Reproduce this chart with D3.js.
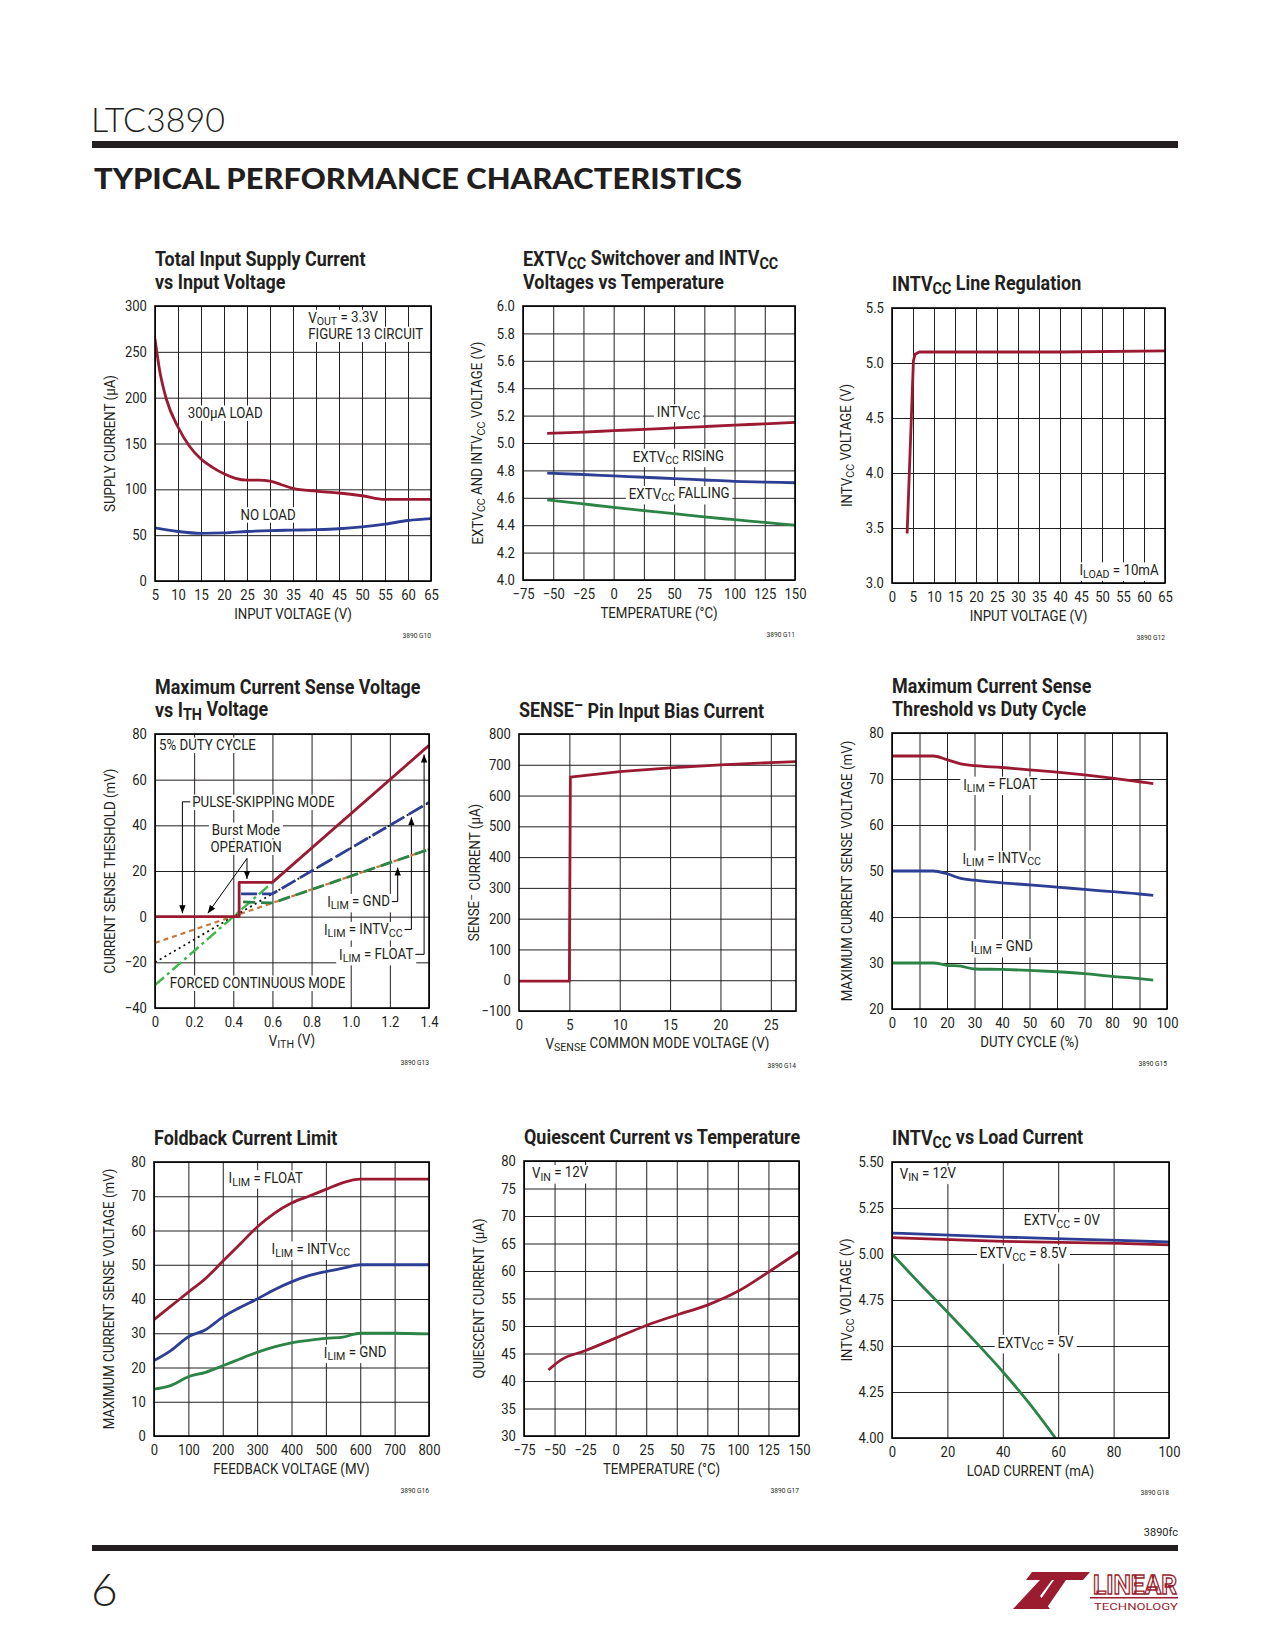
<!DOCTYPE html>
<html>
<head>
<meta charset="utf-8">
<script src="https://cdn.jsdelivr.net/npm/d3@7"></script>
<style>
  body { margin: 0; background: #fff; }
  svg { display: block; }
</style>
</head>
<body>
<script>
// ---- data ----

// Total Input Supply Current vs Input Voltage
const c1VinLoad = [5, 6, 7.5, 10, 12.5, 15, 17.5, 20, 22.5, 25, 27.5, 30, 32.5, 35, 40, 45, 50, 55, 60, 65];
const c1Load = [264, 230, 198, 168, 147, 133, 124, 117, 112, 110, 110, 109, 105, 101, 98, 96, 93, 89, 89, 89];
const c1VinNoLoad = [5, 10, 15, 20, 25, 30, 35, 40, 45, 50, 55, 60, 65];
const c1NoLoad = [58, 54, 52, 52.5, 54, 55, 55.5, 56, 57, 59, 62, 66, 68];
const c1XTicks = d3.range(5, 66, 5);
const c1YTicks = [0, 50, 100, 150, 200, 250, 300];

// EXTVcc switchover and INTVcc vs temperature
const c2Temp = [-55, -25, 0, 25, 50, 75, 100, 125, 150];
const c2Intvcc = [5.07, 5.08, 5.09, 5.10, 5.11, 5.12, 5.13, 5.14, 5.15];
const c2ExtRise = [4.78, 4.77, 4.76, 4.75, 4.74, 4.73, 4.72, 4.715, 4.71];
const c2ExtFall = [4.585, 4.555, 4.53, 4.506, 4.484, 4.46, 4.44, 4.42, 4.40];
const c2XTicks = [-75, -50, -25, 0, 25, 50, 75, 100, 125, 150];
const c2YTicks = [4.0, 4.2, 4.4, 4.6, 4.8, 5.0, 5.2, 5.4, 5.6, 5.8, 6.0];

// INTVcc line regulation
const c3Vin = [3.6, 5.1, 5.5, 6.5, 20, 40, 65];
const c3Intvcc = [3.45, 5.02, 5.08, 5.10, 5.10, 5.10, 5.11];
const c3XTicks = d3.range(0, 66, 5);
const c3YTicks = [3.0, 3.5, 4.0, 4.5, 5.0, 5.5];

// Max current sense voltage vs ITH
const c4FloatX = [0, 0.43, 0.43, 0.6, 1.4];
const c4FloatY = [0, 0, 15, 15, 75];
const c4IntX = [0.44, 0.6, 1.4];
const c4IntY = [10, 10, 50];
const c4GndX = [0.45, 0.6, 1.4];
const c4GndY = [6.5, 6, 29.5];
const c4FcFloatX = [0, 0.6];
const c4FcFloatY = [-30, 15];
const c4FcIntX = [0, 0.6, 1.4];
const c4FcIntY = [-20, 10, 50];
const c4FcGndX = [0, 0.6, 1.4];
const c4FcGndY = [-11.5, 6, 29.5];
const c4XTicks = [0, 0.2, 0.4, 0.6, 0.8, 1.0, 1.2, 1.4];
const c4YTicks = [-40, -20, 0, 20, 40, 60, 80];

// SENSE- pin input bias current
const c5Vcm = [0, 5, 5.1, 10, 15, 20, 25, 27.5];
const c5Isense = [-3, -3, 660, 678, 690, 700, 707, 710];
const c5XTicks = [0, 5, 10, 15, 20, 25];
const c5XGrid = [5, 10, 15, 20, 25];
const c5YTicks = d3.range(-100, 801, 100);

// Max current sense threshold vs duty cycle
const c6Duty = [0, 15, 20, 25, 30, 40, 50, 60, 70, 80, 90, 95];
const c6Float = [75, 75, 74.2, 73.3, 72.9, 72.5, 72, 71.5, 70.9, 70.2, 69.4, 69];
const c6Intvcc = [50, 50, 49.4, 48.4, 48, 47.4, 47, 46.5, 46, 45.5, 45, 44.7];
const c6Gnd = [30, 30, 29.5, 29.3, 28.7, 28.6, 28.4, 28.1, 27.7, 27.1, 26.6, 26.3];
const c6XTicks = d3.range(0, 101, 10);
const c6YTicks = [20, 30, 40, 50, 60, 70, 80];

// Foldback current limit
const c7Vfb = [0, 50, 100, 150, 200, 250, 300, 350, 400, 450, 500, 550, 600, 700, 800];
const c7Float = [34, 38, 42, 46, 51, 56, 61, 65, 68, 70, 72, 74, 75, 75, 75];
const c7Intvcc = [22, 25, 29, 31, 34.7, 37.5, 40, 42.7, 45, 46.8, 48, 49, 50, 50, 50];
const c7Gnd = [13.7, 14.8, 17.3, 18.6, 20.5, 22.5, 24.4, 26, 27.2, 27.9, 28.5, 28.9, 30, 30, 29.8];
const c7XTicks = d3.range(0, 801, 100);
const c7YTicks = d3.range(0, 81, 10);

// Quiescent current vs temperature
const c8Temp = [-55, -45, -25, 0, 25, 50, 75, 100, 125, 150];
const c8Iq = [42, 43.8, 45.5, 47.8, 50.1, 52, 53.8, 56.3, 59.8, 63.5];
const c8XTicks = [-75, -50, -25, 0, 25, 50, 75, 100, 125, 150];
const c8YTicks = d3.range(30, 81, 5);

// INTVcc vs load current
const c9LoadA = [0, 40, 82, 100];
const c9Ext0 = [5.114, 5.092, 5.074, 5.065];
const c9Ext85 = [5.089, 5.069, 5.058, 5.05];
const c9LoadB = [0, 10, 20, 30, 40, 50, 59];
const c9Ext5 = [5.0, 4.84, 4.685, 4.525, 4.36, 4.18, 4.0];
const c9XTicks = [0, 20, 40, 60, 80, 100];
const c9YTicks = [4.0, 4.25, 4.5, 4.75, 5.0, 5.25, 5.5];

// ---- drawing ----
const FONT = "Roboto, 'Liberation Sans Narrow', 'Arial Narrow', sans-serif";
// the sheet uses a condensed face, so text gets squeezed sideways
const SX_TEXT = 0.95, SX_TITLE = 0.92, SX_TICK = 0.9;
const RED = "#9b1a32", BLUE = "#2d3f95", GREEN = "#2b8445";
const INK = "#231f20";

const svg = d3.select("body").append("svg")
    .attr("width", 1275).attr("height", 1650)
    .style("font-family", FONT);

const defs = svg.append("defs");
defs.append("marker").attr("id", "arrow")
    .attr("viewBox", "0 0 10 10").attr("refX", 10).attr("refY", 5)
    .attr("markerWidth", 8).attr("markerHeight", 8).attr("markerUnits", "userSpaceOnUse")
    .attr("orient", "auto")
  .append("path").attr("d", "M0,1 L10,5 L0,9 Z").attr("fill", "#000");

// write text with _{sub} and ^{sup} pieces as tspans
function rich(t, str) {
  const parts = str.split(/(_\{[^}]*\}|\^\{[^}]*\})/).filter(p => p !== "");
  let shift = 0;
  parts.forEach(p => {
    let s = 0, txt = p, small = false;
    if (p.startsWith("_{")) { s = 0.22; txt = p.slice(2, -1); small = true; }
    else if (p.startsWith("^{")) { s = -0.38; txt = p.slice(2, -1); small = true; }
    const ts = t.append("tspan").text(txt);
    const dy = s - shift;
    if (dy !== 0) ts.attr("dy", dy + "em");
    if (small) ts.attr("font-size", "80%");
    shift = s;
  });
  return t;
}

function label(g, x, y, str, opt) {
  opt = opt || {};
  const sx = opt.sx || SX_TEXT;
  const gg = g.append("g").attr("transform", `translate(${x},${y}) ${opt.rot ? "rotate(-90)" : ""} scale(${sx},1)`);
  const t = gg.append("text")
      .attr("font-size", opt.size || 14).attr("fill", INK)
      .attr("font-weight", opt.bold ? "bold" : null)
      .attr("text-anchor", opt.anchor || "start");
  rich(t, str);
  if (opt.bg) {
    const b = t.node().getBBox();
    gg.insert("rect", () => t.node())
        .attr("x", b.x - 3).attr("y", b.y + 1).attr("width", b.width + 6).attr("height", b.height - 1)
        .attr("fill", "#fff");
  }
  return t;
}

let clipId = 0;
function drawChart(c) {
  const g = svg.append("g").attr("transform", `translate(${c.left},${c.top})`);
  const x = d3.scaleLinear().domain(c.xDomain).range([0, c.w]);
  const y = d3.scaleLinear().domain(c.yDomain).range([c.h, 0]);

  // grid
  const gx = g.append("g").call(d3.axisBottom(x).tickValues(c.xGrid || c.xTicks).tickSize(c.h).tickFormat(""));
  const gy = g.append("g").call(d3.axisLeft(y).tickValues(c.yGrid || c.yTicks).tickSize(-c.w).tickFormat(""));
  [gx, gy].forEach(a => {
    a.select(".domain").remove();
    a.selectAll("line").attr("stroke", INK).attr("stroke-width", 1);
  });

  // tick labels
  const ax = g.append("g").attr("transform", `translate(0,${c.h})`)
      .call(d3.axisBottom(x).tickValues(c.xTicks).tickFormat(c.xFmt || d3.format("")).tickSize(0).tickPadding(9));
  const ay = g.append("g")
      .call(d3.axisLeft(y).tickValues(c.yTicks).tickFormat(c.yFmt || d3.format("")).tickSize(0).tickPadding(9));
  [ax, ay].forEach(a => {
    a.select(".domain").remove();
    a.selectAll("text").attr("font-size", 14.5).attr("fill", INK).style("font-family", FONT)
        .attr("transform", `scale(${SX_TICK},1)`);
  });

  // labels with white boxes over the grid
  (c.labels || []).forEach(l => label(g, x(l.x), y(l.y), l.text, { anchor: l.anchor, bg: true }));

  // annotation lines
  (c.arrows || []).forEach(a => {
    g.append("path")
        .attr("d", d3.line().x(d => x(d[0])).y(d => y(d[1]))(a.pts))
        .attr("fill", "none").attr("stroke", "#000").attr("stroke-width", 1)
        .attr("marker-end", a.head ? "url(#arrow)" : null);
  });

  // data
  const id = "clip" + (clipId++);
  g.append("clipPath").attr("id", id).append("rect").attr("width", c.w).attr("height", c.h);
  c.series.forEach(s => {
    const line = d3.line().x(d => x(d[0])).y(d => y(d[1])).curve(s.curve || d3.curveLinear);
    g.append("path")
        .attr("d", line(d3.zip(s.x, s.y)))
        .attr("fill", "none")
        .attr("stroke", s.color)
        .attr("stroke-width", s.width || 2.8)
        .attr("stroke-dasharray", s.dash || null)
        .attr("stroke-linejoin", "round")
        .attr("clip-path", `url(#${id})`);
  });

  // frame
  g.append("rect").attr("width", c.w).attr("height", c.h)
      .attr("fill", "none").attr("stroke", "#000").attr("stroke-width", 1.6);

  // titles
  c.title.forEach((t, i) => {
    label(g, 0, -17 - 23 * (c.title.length - 1 - i), t, { size: 19.5, bold: true, sx: SX_TITLE });
  });
  label(g, c.w / 2, c.h + 38, c.xTitle, { anchor: "middle" });
  label(g, -40, c.h / 2, c.yTitle, { anchor: "middle", rot: true });
  label(g, c.w, c.h + 57, c.id, { size: 7, anchor: "end" });
}

const f1 = d3.format(".1f"), f2 = d3.format(".2f");
const mono = d3.curveMonotoneX;

drawChart({
  left: 155, top: 306, w: 276, h: 275,
  xDomain: [5, 65], yDomain: [0, 300], xTicks: c1XTicks, yTicks: c1YTicks,
  title: ["Total Input Supply Current", "vs Input Voltage"],
  xTitle: "INPUT VOLTAGE (V)", yTitle: "SUPPLY CURRENT (µA)", id: "3890 G10",
  labels: [
    { x: 38.3, y: 281.7, text: "V_{OUT} = 3.3V" },
    { x: 38.3, y: 264, text: "FIGURE 13 CIRCUIT" },
    { x: 12.1, y: 178, text: "300µA LOAD" },
    { x: 23.6, y: 67, text: "NO LOAD" }
  ],
  series: [
    { x: c1VinLoad, y: c1Load, color: RED, curve: mono },
    { x: c1VinNoLoad, y: c1NoLoad, color: BLUE, curve: mono }
  ]
});

drawChart({
  left: 523, top: 306, w: 272, h: 274,
  xDomain: [-75, 150], yDomain: [4.0, 6.0], xTicks: c2XTicks, yTicks: c2YTicks, yFmt: f1,
  title: ["EXTV_{CC} Switchover and INTV_{CC}", "Voltages vs Temperature"],
  xTitle: "TEMPERATURE (°C)", yTitle: "EXTV_{CC} AND INTV_{CC} VOLTAGE (V)", id: "3890 G11",
  labels: [
    { x: 35.7, y: 5.193, text: "INTV_{CC}" },
    { x: 15.8, y: 4.864, text: "EXTV_{CC} RISING" },
    { x: 12.5, y: 4.592, text: "EXTV_{CC} FALLING" }
  ],
  series: [
    { x: c2Temp, y: c2Intvcc, color: RED, curve: mono },
    { x: c2Temp, y: c2ExtRise, color: BLUE, curve: mono },
    { x: c2Temp, y: c2ExtFall, color: GREEN, curve: mono }
  ]
});

drawChart({
  left: 892, top: 308, w: 273, h: 275,
  xDomain: [0, 65], yDomain: [3.0, 5.5], xTicks: c3XTicks, yTicks: c3YTicks, yFmt: f1,
  title: ["INTV_{CC} Line Regulation"],
  xTitle: "INPUT VOLTAGE (V)", yTitle: "INTV_{CC} VOLTAGE (V)", id: "3890 G12",
  labels: [
    { x: 63.5, y: 3.07, text: "I_{LOAD} = 10mA", anchor: "end" }
  ],
  series: [
    { x: c3Vin, y: c3Intvcc, color: RED }
  ]
});

drawChart({
  left: 155, top: 734, w: 274, h: 274,
  xDomain: [0, 1.4], yDomain: [-40, 80], xTicks: c4XTicks, yTicks: c4YTicks,
  xFmt: d => d === 0 ? "0" : f1(d),
  title: ["Maximum Current Sense Voltage", "vs I_{TH} Voltage"],
  xTitle: "V_{ITH} (V)", yTitle: "CURRENT SENSE THESHOLD (mV)", id: "3890 G13",
  labels: [
    { x: 0.02, y: 73, text: "5% DUTY CYCLE" },
    { x: 0.19, y: 48, text: "PULSE-SKIPPING MODE" },
    { x: 0.465, y: 35.8, text: "Burst Mode", anchor: "middle" },
    { x: 0.465, y: 28.4, text: "OPERATION", anchor: "middle" },
    { x: 1.2, y: 4.3, text: "I_{LIM} = GND", anchor: "end" },
    { x: 1.265, y: -8, text: "I_{LIM} = INTV_{CC}", anchor: "end" },
    { x: 1.32, y: -18.9, text: "I_{LIM} = FLOAT", anchor: "end" },
    { x: 0.075, y: -31.2, text: "FORCED CONTINUOUS MODE" }
  ],
  arrows: [
    { pts: [[0.18, 50.3], [0.14, 50.3], [0.14, 1.5]], head: true },
    { pts: [[0.47, 25.5], [0.27, 1.5]], head: true },
    { pts: [[0.47, 25.5], [0.47, 16.5]], head: true },
    { pts: [[1.21, 6.6], [1.24, 6.6], [1.24, 21.5]], head: true },
    { pts: [[1.275, -5.6], [1.31, -5.6], [1.31, 43.5]], head: true },
    { pts: [[1.33, -16.5], [1.375, -16.5], [1.375, 71]], head: true }
  ],
  series: [
    { x: c4FcGndX, y: c4FcGndY, color: "#c47a3e", dash: "5,4", width: 2.2 },
    { x: c4FcIntX, y: c4FcIntY, color: "#111", dash: "2,3.5", width: 1.8 },
    { x: c4FcFloatX, y: c4FcFloatY, color: "#3fb64c", dash: "12,4,3,4", width: 2.4 },
    { x: c4GndX, y: c4GndY, color: GREEN, dash: "12,6", width: 2.8 },
    { x: c4IntX, y: c4IntY, color: BLUE, dash: "16,5", width: 2.8 },
    { x: c4FloatX, y: c4FloatY, color: RED, width: 2.8 }
  ]
});

drawChart({
  left: 519, top: 734, w: 277, h: 277,
  xDomain: [0, 27.5], yDomain: [-100, 800], xTicks: c5XTicks, xGrid: c5XGrid, yTicks: c5YTicks,
  title: ["SENSE^{–} Pin Input Bias Current"],
  xTitle: "V_{SENSE} COMMON MODE VOLTAGE (V)", yTitle: "SENSE^{–} CURRENT (µA)", id: "3890 G14",
  series: [
    { x: c5Vcm, y: c5Isense, color: RED }
  ]
});

drawChart({
  left: 892, top: 733, w: 275, h: 276,
  xDomain: [0, 100], yDomain: [20, 80], xTicks: c6XTicks, yTicks: c6YTicks,
  title: ["Maximum Current Sense", "Threshold vs Duty Cycle"],
  xTitle: "DUTY CYCLE (%)", yTitle: "MAXIMUM CURRENT SENSE VOLTAGE (mV)", id: "3890 G15",
  labels: [
    { x: 25.9, y: 67.7, text: "I_{LIM} = FLOAT" },
    { x: 25.6, y: 51.6, text: "I_{LIM} = INTV_{CC}" },
    { x: 28.5, y: 32.4, text: "I_{LIM} = GND" }
  ],
  series: [
    { x: c6Duty, y: c6Float, color: RED, curve: mono },
    { x: c6Duty, y: c6Intvcc, color: BLUE, curve: mono },
    { x: c6Duty, y: c6Gnd, color: GREEN, curve: mono }
  ]
});

drawChart({
  left: 154, top: 1162, w: 275, h: 274,
  xDomain: [0, 800], yDomain: [0, 80], xTicks: c7XTicks, yTicks: c7YTicks,
  title: ["Foldback Current Limit"],
  xTitle: "FEEDBACK VOLTAGE (MV)", yTitle: "MAXIMUM CURRENT SENSE VOLTAGE (mV)", id: "3890 G16",
  labels: [
    { x: 217, y: 73.8, text: "I_{LIM} = FLOAT" },
    { x: 342, y: 53, text: "I_{LIM} = INTV_{CC}" },
    { x: 494, y: 22.9, text: "I_{LIM} = GND" }
  ],
  series: [
    { x: c7Vfb, y: c7Float, color: RED, curve: mono },
    { x: c7Vfb, y: c7Intvcc, color: BLUE, curve: mono },
    { x: c7Vfb, y: c7Gnd, color: GREEN, curve: mono }
  ]
});

drawChart({
  left: 524, top: 1161, w: 275, h: 275,
  xDomain: [-75, 150], yDomain: [30, 80], xTicks: c8XTicks, yTicks: c8YTicks,
  title: ["Quiescent Current vs Temperature"],
  xTitle: "TEMPERATURE (°C)", yTitle: "QUIESCENT CURRENT (µA)", id: "3890 G17",
  labels: [
    { x: -68.5, y: 76.9, text: "V_{IN} = 12V" }
  ],
  series: [
    { x: c8Temp, y: c8Iq, color: RED, curve: mono }
  ]
});

drawChart({
  left: 892, top: 1162, w: 277, h: 276,
  xDomain: [0, 100], yDomain: [4.0, 5.5], xTicks: c9XTicks, yTicks: c9YTicks, yFmt: f2,
  title: ["INTV_{CC} vs Load Current"],
  xTitle: "LOAD CURRENT (mA)", yTitle: "INTV_{CC} VOLTAGE (V)", id: "3890 G18",
  labels: [
    { x: 2.8, y: 5.41, text: "V_{IN} = 12V" },
    { x: 47.6, y: 5.156, text: "EXTV_{CC} = 0V" },
    { x: 31.7, y: 4.977, text: "EXTV_{CC} = 8.5V" },
    { x: 38.1, y: 4.49, text: "EXTV_{CC} = 5V" }
  ],
  series: [
    { x: c9LoadA, y: c9Ext0, color: BLUE, curve: mono },
    { x: c9LoadA, y: c9Ext85, color: RED, curve: mono },
    { x: c9LoadB, y: c9Ext5, color: GREEN, curve: mono }
  ]
});

// ---- page header / footer ----
svg.append("text").attr("x", 91).attr("y", 132)
    .attr("font-family", "Lato, 'Open Sans', sans-serif").attr("font-weight", 300)
    .attr("font-size", 34).attr("fill", INK).text("LTC3890");
svg.append("rect").attr("x", 92).attr("y", 141).attr("width", 1086).attr("height", 7).attr("fill", INK);
svg.append("text").attr("x", 94).attr("y", 189)
    .attr("font-family", "Lato, 'DejaVu Sans', sans-serif").attr("font-weight", 900)
    .attr("font-size", 28).attr("fill", INK)
    .attr("textLength", 648).attr("lengthAdjust", "spacingAndGlyphs")
    .text("TYPICAL PERFORMANCE CHARACTERISTICS");

svg.append("text").attr("x", 1178).attr("y", 1536).attr("font-size", 11)
    .attr("text-anchor", "end").attr("fill", INK).text("3890fc");
svg.append("rect").attr("x", 92).attr("y", 1545).attr("width", 1086).attr("height", 6).attr("fill", INK);
svg.append("text").attr("x", 91).attr("y", 1606)
    .attr("font-family", "Lato, 'Open Sans', sans-serif").attr("font-weight", 300)
    .attr("font-size", 46).attr("fill", INK).text("6");

// logo
const MAROON = "#9b1c2e";
svg.append("path")
    .attr("d", "M1013,1609 L1040,1580 L1052,1580 L1040,1596 L1050,1609 Z M1032,1572 L1090,1572 L1083,1580 L1066,1580 L1046,1609 L1034,1609 L1054,1580 L1026,1580 Z")
    .attr("fill", MAROON);
svg.append("text").attr("x", 1135).attr("y", 1594).attr("text-anchor", "middle")
    .attr("font-size", 26).attr("font-weight", "bold")
    .attr("fill", "#fff").attr("stroke", MAROON).attr("stroke-width", 1.3)
    .attr("textLength", 84).attr("lengthAdjust", "spacingAndGlyphs").text("LINEAR");
svg.append("rect").attr("x", 1090).attr("y", 1597).attr("width", 88).attr("height", 1.5).attr("fill", MAROON);
svg.append("text").attr("x", 1136).attr("y", 1610).attr("text-anchor", "middle")
    .attr("font-size", 9).attr("fill", MAROON)
    .attr("textLength", 84).attr("lengthAdjust", "spacingAndGlyphs").text("TECHNOLOGY");
</script>
</body>
</html>
